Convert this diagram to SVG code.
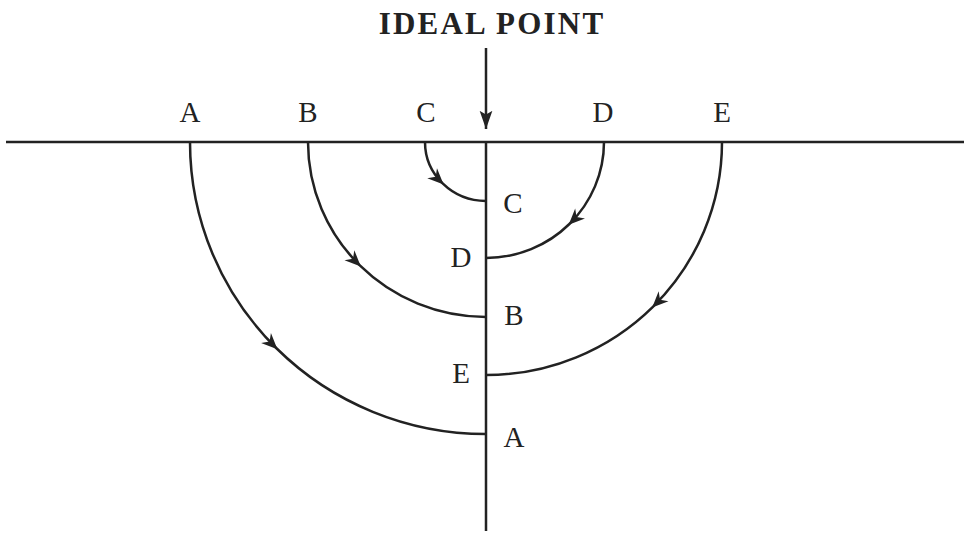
<svg xmlns="http://www.w3.org/2000/svg" width="969" height="533" viewBox="0 0 969 533">
<style>
.ln{stroke:#222;stroke-width:2.5;fill:none}
.arc{stroke:#222;stroke-width:2.5;fill:none;marker-mid:url(#ah)}
.t{font-family:"Liberation Serif","DejaVu Serif",serif;font-size:29px;fill:#222;text-anchor:middle}
.h{font-family:"Liberation Serif","DejaVu Serif",serif;font-size:31px;font-weight:bold;fill:#222;text-anchor:middle;letter-spacing:2.2px}
</style>
<defs>
<marker id="ah" markerUnits="userSpaceOnUse" markerWidth="20" markerHeight="20" viewBox="-16 -8 20 16" refX="2" refY="0" orient="auto">
<path d="M3,0 L-13,-7 L-8,0 L-13,7 Z" fill="#222"/>
</marker>
<marker id="ah2" markerUnits="userSpaceOnUse" markerWidth="20" markerHeight="24" viewBox="-20 -10 22 20" refX="0" refY="0" orient="auto">
<path d="M0,0 L-20,-7 L-16,0 L-20,7 Z" fill="#222"/>
</marker>
</defs>
<g id="title"><text class="h" x="492" y="34">IDEAL POINT</text></g>
<g id="axes">
<line class="ln" x1="6" y1="142" x2="964" y2="142"/>
<line class="ln" x1="486" y1="142" x2="486" y2="531"/>
</g>
<g id="top-labels">
<text class="t" x="190" y="122">A</text>
<text class="t" x="308" y="122">B</text>
<text class="t" x="426" y="122">C</text>
<text class="t" x="603" y="122">D</text>
<text class="t" x="722" y="122">E</text>
</g>
<g id="axis-labels">
<text class="t" x="513" y="213">C</text>
<text class="t" x="461" y="267">D</text>
<text class="t" x="514" y="325">B</text>
<text class="t" x="461" y="383">E</text>
<text class="t" x="514" y="447">A</text>
</g>
<g id="connectors">
<line class="ln" x1="486" y1="48" x2="486" y2="129" marker-end="url(#ah2)"/>
<path id="arc-C" class="arc" d="M425,142 A61,59 0 0 0 442.9,183.7 A61,59 0 0 0 486,201"/>
<path id="arc-D" class="arc" d="M604,142 A118,116 0 0 1 569.4,224 A118,116 0 0 1 486,258"/>
<path id="arc-B" class="arc" d="M308,142 A178,175 0 0 0 360.1,265.7 A178,175 0 0 0 486,317"/>
<path id="arc-E" class="arc" d="M722,142 A236,233 0 0 1 652.9,306.8 A236,233 0 0 1 486,375"/>
<path id="arc-A" class="arc" d="M190,142 A296,292 0 0 0 276.7,348.5 A296,292 0 0 0 486,434"/>
</g>
</svg>
